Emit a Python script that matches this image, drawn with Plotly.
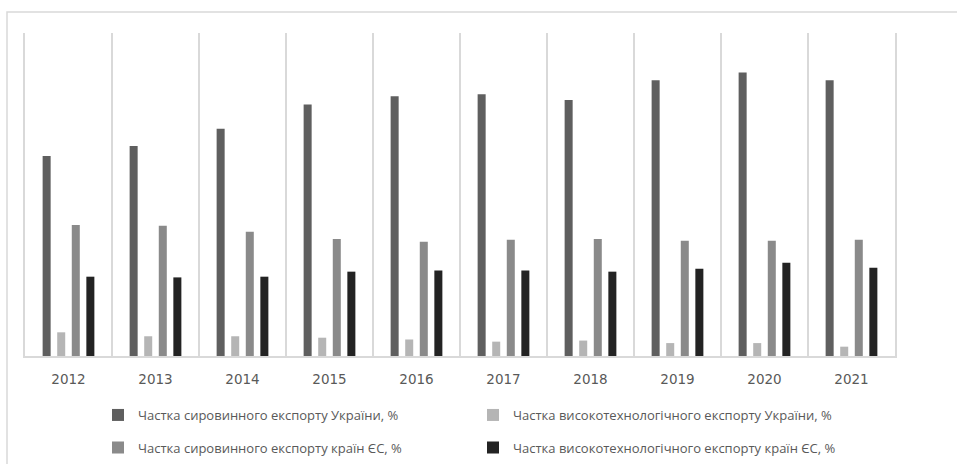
import plotly.graph_objects as go

years = ["2012", "2013", "2014", "2015", "2016", "2017", "2018", "2019", "2020", "2021"]
ua_raw = [55.7, 58.5, 63.3, 70.1, 72.4, 72.9, 71.3, 76.8, 79.0, 76.8]
ua_hitech = [6.6, 5.5, 5.5, 5.1, 4.6, 4.0, 4.3, 3.6, 3.6, 2.6]
eu_raw = [36.5, 36.3, 34.6, 32.6, 31.8, 32.4, 32.6, 32.1, 32.1, 32.4]
eu_hitech = [22.1, 21.9, 22.1, 23.5, 23.8, 23.8, 23.5, 24.3, 26.0, 24.6]

names = [
    "Частка сировинного експорту України, %",
    "Частка високотехнологічного експорту України, %",
    "Частка сировинного експорту країн ЄС, %",
    "Частка високотехнологічного експорту країн ЄС, %",
]
colors = ["#5f5f5f", "#b5b5b5", "#8a8a8a", "#232323"]
series = [ua_raw, ua_hitech, eu_raw, eu_hitech]
legends = ["legend", "legend", "legend2", "legend2"]

fig = go.Figure()
for n, c, s, lg in zip(names, colors, series, legends):
    fig.add_trace(go.Bar(x=years, y=s, name=n, marker=dict(color=c, line=dict(width=0)),
                         legend=lg))

W, H = 957, 464
ml, mr, mt, mb = 25, 62, 33, 107.5
pw = W - ml - mr
ph = H - mt - mb

def px2x(p):
    return (p - ml) / pw

def py2y(p):
    return (H - mb - p) / ph

def cy(p):
    return 1 - p / H

font_leg = dict(family="Open Sans, sans-serif", size=13, color="#595959")

leg_common = dict(orientation="h", xanchor="left", yanchor="middle", yref="container",
                  entrywidth=330, entrywidthmode="pixels", font=font_leg, itemwidth=30,
                  bgcolor="rgba(0,0,0,0)")

fig.update_layout(
    width=W, height=H,
    margin=dict(l=ml, r=mr, t=mt, b=mb, autoexpand=False),
    paper_bgcolor="white", plot_bgcolor="white",
    barmode="group", bargap=0.33, bargroupgap=0.45,
    showlegend=True,
    legend=dict(x=px2x(98), y=cy(415), **leg_common),
    legend2=dict(x=px2x(98), y=cy(447.5), **leg_common),
    xaxis=dict(type="category", tickson="boundaries", showgrid=True, gridcolor="#d9d9d9",
               gridwidth=1.5, showline=True, linecolor="#d9d9d9", linewidth=1.5,
               ticks="", tickfont=dict(family="DejaVu Sans", size=13.5, color="#595959"),
               ticklabelstandoff=10, fixedrange=True),
    yaxis=dict(range=[0, 90], visible=True, showticklabels=False, ticks="", showgrid=False,
               zeroline=False, showline=True, mirror=True, linecolor="#d9d9d9", linewidth=1.5,
               fixedrange=True),
    shapes=[dict(type="rect", xref="paper", yref="paper",
                 x0=px2x(7), x1=px2x(W + 20), y0=py2y(H + 20), y1=py2y(12),
                 line=dict(color="#d9d9d9", width=1.5), fillcolor="rgba(0,0,0,0)", layer="below")],
)

fig.write_html("out.html")
